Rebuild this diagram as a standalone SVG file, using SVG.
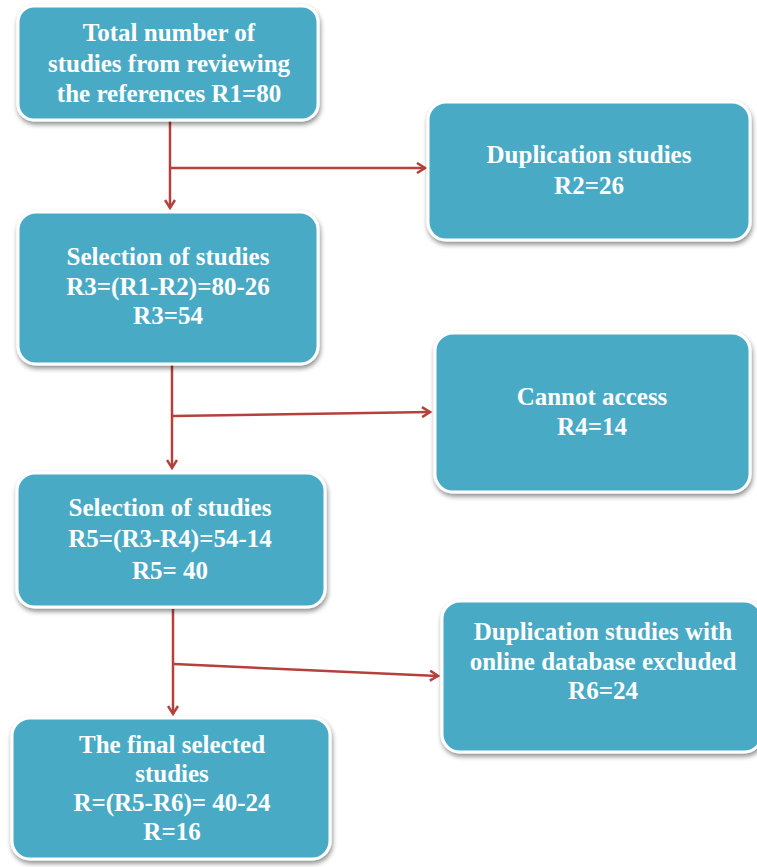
<svg xmlns="http://www.w3.org/2000/svg" width="757" height="867" viewBox="0 0 757 867">
<style>
.box{fill:#4aaac5;stroke:#ffffff;stroke-width:3;filter:url(#sh)}
.t{font-family:"Liberation Serif","Times New Roman",serif;font-weight:bold;font-size:25px;fill:#ffffff;text-anchor:middle}
.c{fill:none;stroke:#b5403c;stroke-width:2.5}
</style>
<defs>
<filter id="sh" x="-10%" y="-10%" width="125%" height="130%">
<feGaussianBlur in="SourceAlpha" stdDeviation="2.5"/>
<feOffset dx="1" dy="3" result="b"/>
<feComponentTransfer><feFuncA type="linear" slope="0.45"/></feComponentTransfer>
<feMerge><feMergeNode/><feMergeNode in="SourceGraphic"/></feMerge>
</filter>
<marker id="ah" markerWidth="12" markerHeight="12" refX="9" refY="6" orient="auto" markerUnits="userSpaceOnUse">
<path d="M1,1 L9,6 L1,11" fill="none" stroke="#b5403c" stroke-width="2.5"/>
</marker>
</defs>
<rect width="757" height="867" fill="#ffffff"/>
<g id="connectors">
<path class="c" d="M170,121 V208" marker-end="url(#ah)"/>
<path class="c" d="M171,168 H425" marker-end="url(#ah)"/>
<path class="c" d="M172,365 V468" marker-end="url(#ah)"/>
<path class="c" d="M173,416 L430,412" marker-end="url(#ah)"/>
<path class="c" d="M173,609 V714" marker-end="url(#ah)"/>
<path class="c" d="M174,664 L438,676" marker-end="url(#ah)"/>
</g>
<g id="n1">
<rect class="box" x="18" y="6" width="300" height="114" rx="16"/>
<text class="t" x="169" y="41">Total number of</text>
<text class="t" x="169" y="72">studies from reviewing</text>
<text class="t" x="169" y="102">the references R1=80</text>
</g>
<g id="n2">
<rect class="box" x="428" y="102" width="322" height="138" rx="18"/>
<text class="t" x="589" y="163">Duplication studies</text>
<text class="t" x="589" y="194">R2=26</text>
</g>
<g id="n3">
<rect class="box" x="18" y="212" width="300" height="152" rx="18"/>
<text class="t" x="168" y="265">Selection of studies</text>
<text class="t" x="168" y="295">R3=(R1-R2)=80-26</text>
<text class="t" x="168" y="324">R3=54</text>
</g>
<g id="n4">
<rect class="box" x="435" y="333" width="315" height="159" rx="18"/>
<text class="t" x="592" y="405">Cannot access</text>
<text class="t" x="592" y="435">R4=14</text>
</g>
<g id="n5">
<rect class="box" x="17" y="473" width="308" height="134" rx="18"/>
<text class="t" x="170" y="516">Selection of studies</text>
<text class="t" x="170" y="547">R5=(R3-R4)=54-14</text>
<text class="t" x="170" y="579">R5= 40</text>
</g>
<g id="n6">
<rect class="box" x="442" y="601" width="320" height="151" rx="18"/>
<text class="t" x="603" y="640">Duplication studies with</text>
<text class="t" x="603" y="670">online database excluded</text>
<text class="t" x="603" y="699">R6=24</text>
</g>
<g id="n7">
<rect class="box" x="12" y="718" width="318" height="141" rx="18"/>
<text class="t" x="172" y="753">The final selected</text>
<text class="t" x="172" y="782">studies</text>
<text class="t" x="172" y="811">R=(R5-R6)= 40-24</text>
<text class="t" x="172" y="840">R=16</text>
</g>
</svg>
